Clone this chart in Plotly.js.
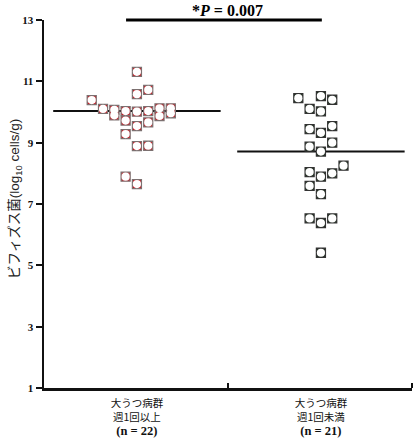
<!DOCTYPE html>
<html>
<head>
<meta charset="utf-8">
<script src="https://cdn.plot.ly/plotly-3.0.1.min.js"></script>
<style>html,body{margin:0;padding:0;background:#fff;}#chart{width:420px;height:440px;}</style>
</head>
<body>
<div id="chart"></div>
<script>
// ---- data ----
const categories = ["大うつ病群<br>週1回以上", "大うつ病群<br>週1回未満"];
const counts = ["(n = 22)", "(n = 21)"];
const group1Values = [11.31, 10.72, 10.58, 10.39, 10.10, 10.07, 9.89, 10.03, 10.01, 10.03, 10.12, 9.87, 10.12, 9.96, 9.72, 9.66, 9.54, 9.28, 8.89, 8.90, 7.89, 7.65];
const group1Columns = [0, 1, 0, -4, -3, -2, -2, -1, 0, 1, 2, 2, 3, 3, -1, 1, 0, -1, 0, 1, -1, 0];
const group2Values = [10.45, 10.52, 10.40, 10.10, 10.02, 9.44, 9.32, 9.54, 8.87, 8.71, 9.00, 8.25, 8.04, 7.89, 8.00, 7.59, 7.32, 6.53, 6.38, 6.53, 5.41];
const group2Columns = [-2, 0, 1, -1, 0, -1, 0, 1, -1, 0, 1, 2, -1, 0, 1, -1, 0, -1, 0, 1, 0];
const medians = [10.03, 8.71];
const pValueLabel = "<b>*<i>P</i> = 0.007</b>";
const yTitle = "ビフィズス菌(log<sub>10</sub> cells/g)";
const yTickVals = [1, 3, 5, 7, 9, 11, 13];

// ---- layout helpers ----
const centers = [0.505, 1.505];
const colStep = 0.0614;
const halfLine = 0.455;
const groups = [
  {vals: group1Values, cols: group1Columns, fill: "#c8141e", edge: "#7c7070"},
  {vals: group2Values, cols: group2Columns, fill: "#1d2e1d", edge: "#333333"}
];

const traces = [];
groups.forEach((g, i) => {
  const xs = g.cols.map(c => centers[i] + c * colStep);
  traces.push({
    type: "scatter", mode: "lines", x: [centers[i] - halfLine, centers[i] + halfLine],
    y: [medians[i], medians[i]], line: {color: "#111", width: 2}, hoverinfo: "skip"
  });
  traces.push({
    type: "scatter", mode: "markers", x: xs, y: g.vals,
    marker: {symbol: "square", size: 9, color: g.fill, line: {color: g.edge, width: 1.3}}, cliponaxis: false
  });
  traces.push({
    type: "scatter", mode: "markers", x: xs, y: g.vals,
    marker: {symbol: "circle", size: 8.2, color: "#ffffff", line: {width: 0}}, cliponaxis: false
  });
});

const serif = "Liberation Serif, Times New Roman, serif";
const tickText = categories.map((c, i) =>
  '<span style="font-family:Noto Sans CJK JP;font-size:10.5px">' + c + '</span><br><b style="font-size:12.5px">' + counts[i] + '</b>');

const layout = {
  width: 420, height: 440,
  margin: {l: 44, r: 8, t: 20, b: 52},
  paper_bgcolor: "#fff", plot_bgcolor: "#fff",
  showlegend: false,
  font: {family: serif, color: "#111", size: 12},
  xaxis: {
    range: [0, 2], showgrid: false, zeroline: false,
    showline: true, linecolor: "#111", linewidth: 2.5,
    tickmode: "array", tickvals: centers, ticktext: tickText,
    ticks: "", ticklabelstandoff: 3, tickfont: {family: serif, size: 11, color: "#111"},
    minor: {tickmode: "array", tickvals: [1, 2], ticks: "inside", ticklen: 5, tickwidth: 2, tickcolor: "#111"}
  },
  yaxis: {
    range: [1, 13], showgrid: false, zeroline: false,
    showline: true, linecolor: "#111", linewidth: 2.5,
    tickmode: "array", tickvals: yTickVals, ticktext: yTickVals.map(v => "<b>" + v + "</b>"),
    ticks: "outside", ticklen: 6, tickwidth: 2, tickcolor: "#111",
    tickfont: {family: serif, size: 11, color: "#111"}
  },
  shapes: [{type: "line", xref: "x", yref: "paper", x0: 0.446, x1: 1.51, y0: 1, y1: 1,
            line: {color: "#000", width: 3}}],
  annotations: [
    {xref: "x", yref: "paper", x: 0.995, y: 1, yshift: -1, yanchor: "bottom", showarrow: false,
     text: pValueLabel, font: {family: serif, size: 16, color: "#000"}},
    {xref: "paper", yref: "paper", x: 0, xshift: -29, y: 0.5, yshift: 5, xanchor: "center", yanchor: "middle",
     textangle: -90, showarrow: false, text: yTitle,
     font: {family: "Liberation Sans, Noto Sans CJK JP, sans-serif", size: 13.5, color: "#222"}}
  ]
};

Plotly.newPlot("chart", traces, layout, {displayModeBar: false, staticPlot: true});
</script>
</body>
</html>
